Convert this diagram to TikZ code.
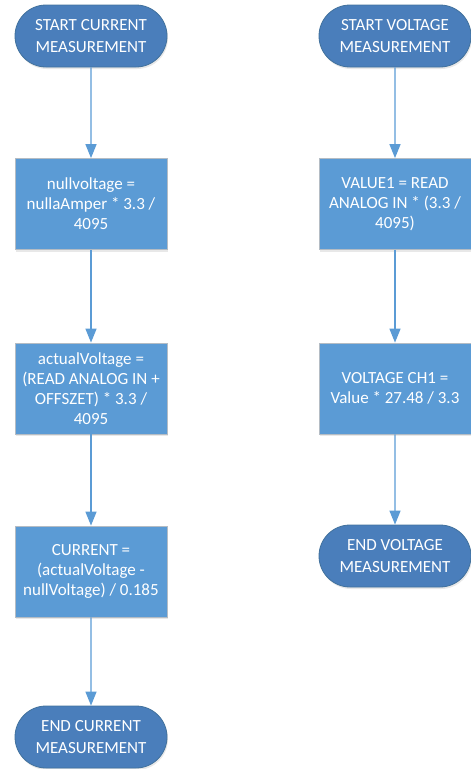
\documentclass[tikz,border=0pt]{standalone}
\usepackage{fontspec}
\setmainfont{Carlito}
\usetikzlibrary{arrows.meta,shadows,shapes.misc}
\definecolor{termfill}{HTML}{4A7EBB}
\definecolor{termdraw}{HTML}{41719C}
\definecolor{boxfill}{HTML}{5B9BD5}
\definecolor{boxdraw}{HTML}{B4BCC4}
\definecolor{arrowc}{HTML}{5B9BD5}
\newcommand{\termfont}{\fontsize{17pt}{22pt}\selectfont}
\newcommand{\procfont}{\fontsize{17pt}{20pt}\selectfont}
\begin{document}
\begin{tikzpicture}[x=1pt,y=-1pt,
  term/.style={rounded rectangle, fill=termfill, draw=termdraw, line width=0.8pt,
    minimum width=152pt, minimum height=62pt, text=white, align=center,
    font=\termfont, inner sep=0pt,
    drop shadow={opacity=0.18, shadow xshift=1pt, shadow yshift=-2pt}},
  proc/.style={rectangle, fill=boxfill, draw=boxdraw, line width=0.8pt,
    minimum width=152pt, minimum height=91pt, text=white, align=center,
    font=\procfont, inner sep=0pt,
    drop shadow={opacity=0.18, shadow xshift=1pt, shadow yshift=-2pt}},
  flow/.style={draw=arrowc, line width=1.4pt, -{Triangle[width=11pt,length=14pt]}}
]
\useasboundingbox (0,0) rectangle (471,769);
% left column
\node[term] (s1) at (91,36) {START CURRENT\\MEASUREMENT};
\node[proc] (a1) at (91,204) {nullvoltage =\\nullaAmper * 3.3 /\\4095};
\node[proc] (a2) at (91,388.5) {actualVoltage =\\(READ ANALOG IN +\\OFFSZET) * 3.3 /\\4095};
\node[proc] (a3) at (91,571.5) {CURRENT =\\(actualVoltage -\\nullVoltage) / 0.185};
\node[term] (e1) at (91,737) {END CURRENT\\MEASUREMENT};
% right column
\node[term] (s2) at (395,36) {START VOLTAGE\\MEASUREMENT};
\node[proc] (b1) at (395,204) {VALUE1 = READ\\ANALOG IN * (3.3 /\\4095)};
\node[proc] (b2) at (395,388.5) {VOLTAGE CH1 =\\Value * 27.48 / 3.3};
\node[term] (e2) at (395,556) {END VOLTAGE\\MEASUREMENT};
% connectors
\draw[flow] (s1) -- (a1);
\draw[flow] (a1) -- (a2);
\draw[flow] (a2) -- (a3);
\draw[flow] (a3) -- (e1);
\draw[flow] (s2) -- (b1);
\draw[flow] (b1) -- (b2);
\draw[flow] (b2) -- (e2);
\end{tikzpicture}
\end{document}
